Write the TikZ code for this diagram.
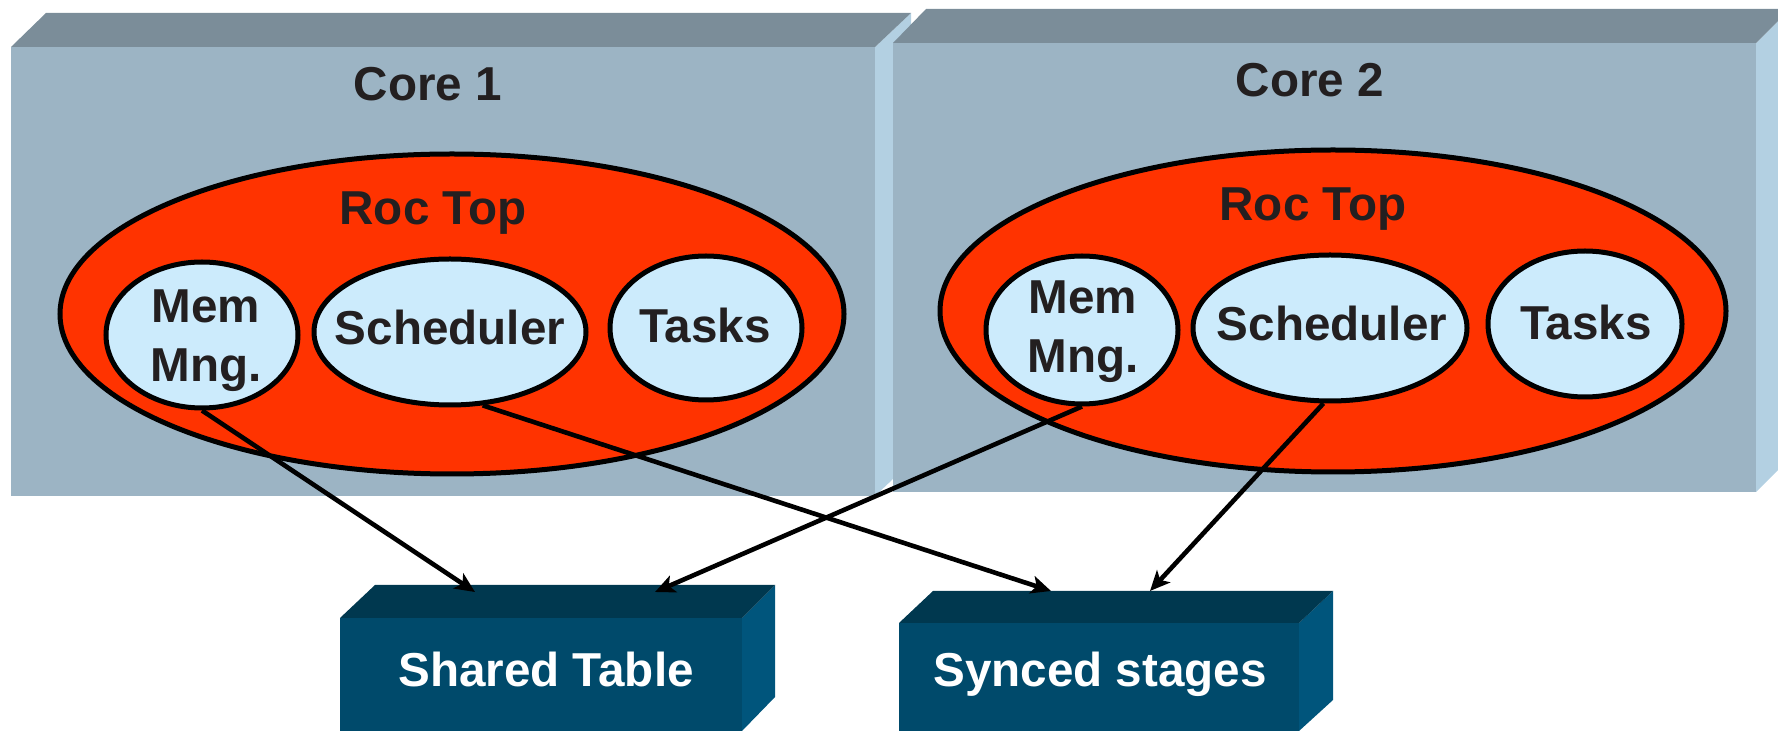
\documentclass[tikz,border=0pt]{standalone}
\usepackage{fontspec}
\setmainfont{Liberation Sans}
\usetikzlibrary{shapes.geometric,arrows.meta}
\definecolor{corefront}{HTML}{9CB4C4}
\definecolor{coretop}{HTML}{7B8D99}
\definecolor{coreside}{HTML}{B3D0E2}
\definecolor{roc}{HTML}{FF3300}
\definecolor{innerfill}{HTML}{CCEBFC}
\definecolor{boxfront}{HTML}{004A6B}
\definecolor{boxtop}{HTML}{00384F}
\definecolor{boxside}{HTML}{00557C}
\definecolor{ink}{HTML}{231F20}
\begin{document}
\begin{tikzpicture}[x=0.5pt,y=-0.5pt,
  lbl/.style={font=\fontsize{23.8}{29.5}\selectfont\bfseries, text=ink, inner sep=0pt},
  wlbl/.style={lbl, text=white},
  rocell/.style={ellipse, draw=black, line width=2.5pt, fill=roc, inner sep=0pt},
  inell/.style={ellipse, draw=black, line width=2.5pt, fill=innerfill, inner sep=0pt},
  conn/.style={line width=2.3pt, -{Stealth[length=10pt,width=9pt,inset=2.5pt]}}]
\clip (0,0) rectangle (1778,731);
% Core 1 block
\fill[coreside] (875,47) -- (911,13) -- (911,462) -- (875,496) -- cycle;
\fill[coretop] (11,47) -- (46,13) -- (911,13) -- (875,47) -- cycle;
\fill[corefront] (11,47) rectangle (875,496);
% Core 2 block
\fill[coreside] (1756,43) -- (1790,9) -- (1790,458) -- (1756,492) -- cycle;
\fill[coretop] (893,43) -- (926,9) -- (1790,9) -- (1756,43) -- cycle;
\fill[corefront] (893,43) rectangle (1756,492);
% titles
\node[lbl, anchor=base] (core1) at (428,101) {Core 1};
\node[lbl, anchor=base] (core2) at (1310,97) {Core 2};
% Roc Top ellipses
\node[rocell, minimum width=392pt, minimum height=160pt] (roc1) at (452,314) {};
\node[rocell, minimum width=393pt, minimum height=161pt] (roc2) at (1333,311) {};
\node[lbl, anchor=base] (roct1) at (433,225) {Roc Top};
\node[lbl, anchor=base] (roct2) at (1313,221) {Roc Top};
% inner ellipses core 1
\node[inell, minimum width=96pt, minimum height=73pt] (mem1) at (202,335) {};
\node[inell, minimum width=136pt, minimum height=73pt] (sch1) at (450,332) {};
\node[inell, minimum width=96pt, minimum height=72pt] (tsk1) at (706,328) {};
% inner ellipses core 2
\node[inell, minimum width=96pt, minimum height=74pt] (mem2) at (1082,330) {};
\node[inell, minimum width=137pt, minimum height=73pt] (sch2) at (1330,328) {};
\node[inell, minimum width=97pt, minimum height=73pt] (tsk2) at (1585,324) {};
% inner labels
\node[lbl, align=center] (memt1) at (206,341) {Mem\\Mng.};
\node[lbl, anchor=base] (scht1) at (450,345) {Scheduler};
\node[lbl, anchor=base] (tskt1) at (705,343) {Tasks};
\node[lbl, align=center] (memt2) at (1083,332) {Mem\\Mng.};
\node[lbl, anchor=base] (scht2) at (1332,341) {Scheduler};
\node[lbl, anchor=base] (tskt2) at (1586,340) {Tasks};
% bottom blocks
\fill[boxside] (742,618) -- (775,585) -- (775,697) -- (742,731) -- cycle;
\fill[boxtop] (340,618) -- (375,585) -- (775,585) -- (742,618) -- cycle;
\fill[boxfront] (340,618) rectangle (742,740);
\fill[boxside] (1299,623) -- (1333,591) -- (1333,700) -- (1299,731) -- cycle;
\fill[boxtop] (899,623) -- (933,591) -- (1333,591) -- (1299,623) -- cycle;
\fill[boxfront] (899,623) rectangle (1299,740);
\node[wlbl, anchor=base] (shared) at (546,687) {Shared Table};
\node[wlbl, anchor=base] (synced) at (1100,687) {Synced stages};
% arrow targets on top faces
\coordinate (tA) at (475,592);
\coordinate (tC) at (655,592);
\coordinate (tB) at (1051,591);
\coordinate (tD) at (1150,591);
% connectors
\draw[conn] (mem1.south) -- (tA);
\draw[conn] (sch1.-66) -- (tB);
\draw[conn] (mem2.south) -- (tC);
\draw[conn] (sch2.-95) -- (tD);
\end{tikzpicture}
\end{document}
